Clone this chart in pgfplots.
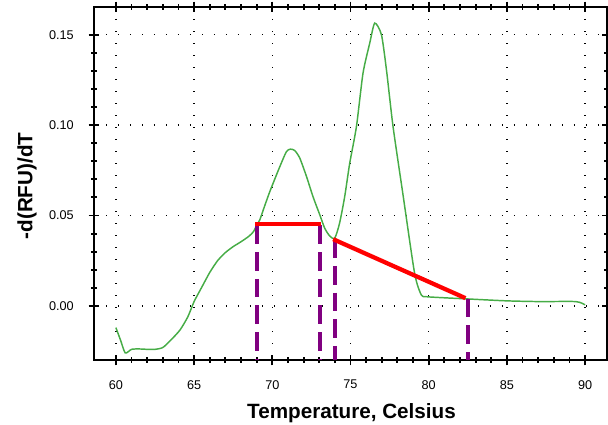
\documentclass[border=0pt]{standalone}
\usepackage{pgfplots}
\pgfplotsset{compat=1.18}
\usepackage{fontspec}
\setmainfont{Liberation Sans}
\definecolor{curvegreen}{RGB}{70,172,70}
\definecolor{mpurple}{RGB}{128,0,128}
\pgfplotsset{gridline/.style={black, line width=1pt, dash pattern=on 1pt off 8pt, forget plot}}
\begin{document}
\begin{tikzpicture}
\begin{axis}[
  at={(0,0)}, anchor=south west,
  scale only axis,
  width=384.75pt, height=264.75pt,
  xmin=58.6, xmax=91.4,
  ymin=-0.0299, ymax=0.1653,
  xtick={60,65,...,90},
  ytick={0,0.05,0.10,0.15},
  minor x tick num=4,
  minor y tick num=4,
  tick align=center,
  major tick length=8pt,
  minor tick length=4pt,
  tick style={black, solid, line width=1.4pt},
  axis line style={line width=2pt},
  /pgf/number format/assume math mode=true,
  scaled y ticks=false,
  tick label style={font=\fontsize{9.5}{11}\selectfont, inner sep=0pt},
  xticklabel style={yshift=-11pt},
  yticklabel style={xshift=-11pt, /pgf/number format/fixed, /pgf/number format/fixed zerofill, /pgf/number format/precision=2},
  xlabel={Temperature, Celsius},
  ylabel={-d(RFU)/dT},
  label style={font=\fontsize{15.5}{18}\selectfont\bfseries},
  xlabel style={at={(axis description cs:0.502,0)}, anchor=base, yshift=-44.25pt},
  ylabel style={at={(axis description cs:0,0.493)}, anchor=center, rotate=0, yshift=50.25pt},
]
\addplot[gridline] coordinates {(60,0.1653) (60,-0.0299)};
\addplot[gridline] coordinates {(65,0.1653) (65,-0.0299)};
\addplot[gridline] coordinates {(70,0.1653) (70,-0.0299)};
\addplot[gridline] coordinates {(75,0.1653) (75,-0.0299)};
\addplot[gridline] coordinates {(80,0.1653) (80,-0.0299)};
\addplot[gridline] coordinates {(85,0.1653) (85,-0.0299)};
\addplot[gridline] coordinates {(90,0.1653) (90,-0.0299)};
\addplot[gridline] coordinates {(58.6,0) (91.4,0)};
\addplot[gridline] coordinates {(58.6,0.05) (91.4,0.05)};
\addplot[gridline] coordinates {(58.6,0.10) (91.4,0.10)};
\addplot[gridline] coordinates {(58.6,0.15) (91.4,0.15)};
\addplot[curvegreen, line width=1.1pt, smooth, tension=0.4] coordinates {
(60.0,-0.012) (60.3,-0.019) (60.6,-0.026) (61.0,-0.024) (61.5,-0.0238)
(62.0,-0.024) (62.5,-0.024) (63.0,-0.023) (63.5,-0.019) (64.1,-0.0133)
(64.6,-0.006) (65.0,0.0024) (65.5,0.0105) (66.0,0.0185) (66.5,0.025)
(67.0,0.0295) (67.5,0.0328) (68.0,0.0355) (68.5,0.0385)
(68.8,0.0411) (69.0,0.0445) (69.2,0.0476) (69.5,0.055) (69.84,0.0632)
(70.2,0.071) (70.48,0.077) (70.9,0.0853) (71.16,0.0867) (71.44,0.0859)
(71.76,0.0817) (72.19,0.0715) (72.6,0.0605) (73.04,0.0503) (73.35,0.043)
(73.67,0.0387) (73.99,0.0374) (74.3,0.0457) (74.63,0.0605) (74.95,0.0789)
(75.38,0.0992) (75.8,0.1287) (76.23,0.1453) (76.55,0.1564) (76.98,0.1499)
(77.3,0.1305) (77.72,0.0992) (78.34,0.0625) (79.1,0.018) (79.53,0.006)
(79.85,0.0051) (81.0,0.0045) (82.4,0.0039) (85.0,0.0028) (87.1,0.0024)
(89.4,0.0024) (90.0,0.0006)
};
\addplot[mpurple, line width=3pt, dash pattern=on 14pt off 6pt] coordinates {(69.03,0.0445) (69.03,-0.0299)};
\addplot[mpurple, line width=3pt, dash pattern=on 14pt off 6pt] coordinates {(73.08,0.0445) (73.08,-0.0299)};
\addplot[mpurple, line width=3pt, dash pattern=on 14pt off 6pt] coordinates {(73.98,0.0369) (73.98,-0.0299)};
\addplot[mpurple, line width=3pt, dash pattern=on 14pt off 6pt] coordinates {(82.5,0.0040) (82.5,-0.0299)};
\addplot[red, line width=3.2pt] coordinates {(68.9,0.0454) (73.12,0.0454)};
\addplot[red, line width=3.2pt] coordinates {(73.89,0.0369) (82.35,0.0043)};
\end{axis}
\pgfresetboundingbox
\useasboundingbox (-70.5pt,-48.75pt) rectangle (385.5pt,270pt);
\end{tikzpicture}
\end{document}
